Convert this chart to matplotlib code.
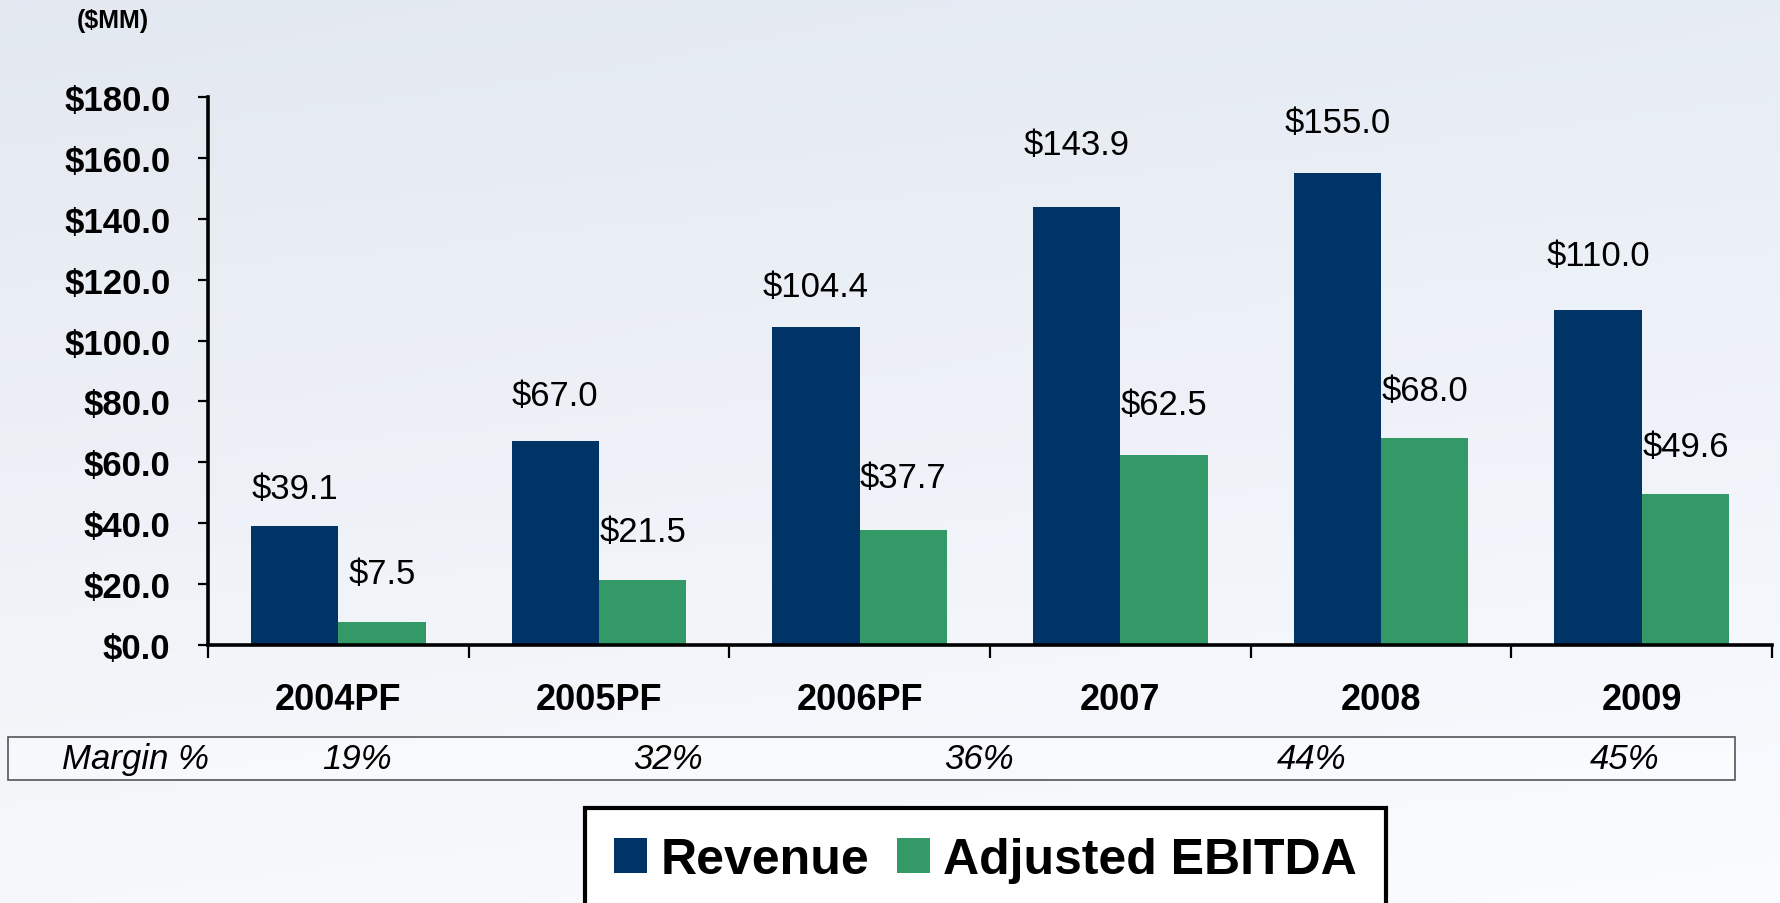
import numpy as np
import matplotlib
matplotlib.use("Agg")
import matplotlib.pyplot as plt
from matplotlib.patches import Rectangle, Patch

# ---- data ----
categories = ["2004PF", "2005PF", "2006PF", "2007", "2008", "2009"]
revenue = [39.1, 67.0, 104.4, 143.9, 155.0, 110.0]
ebitda = [7.5, 21.5, 37.7, 62.5, 68.0, 49.6]
margin_labels = ["19%", "32%", "36%", "44%", "45%"]
y_ticks = [0, 20, 40, 60, 80, 100, 120, 140, 160, 180]
series_names = ["Revenue", "Adjusted EBITDA"]

# ---- style ----
REV_C = "#003366"
EBI_C = "#339966"
FONT = ["Liberation Sans", "DejaVu Sans"]
plt.rcParams["font.family"] = FONT

W, H = 1781, 904
fig = plt.figure(figsize=(W / 100, H / 100), dpi=100)

# background gradient
bg = fig.add_axes([0, 0, 1, 1], zorder=-10)
top = np.array([0.890, 0.912, 0.945])
bot = np.array([0.965, 0.972, 0.984])
t = np.linspace(0, 1, 256)[:, None]
hx = np.linspace(0, 1, 256)[None, :]
grad = top[None, None, :] * (1 - t[..., None]) + bot[None, None, :] * t[..., None]
grad = grad + 0.015 * hx[..., None]
grad = np.clip(grad, 0, 1)
bg.imshow(grad, aspect="auto", extent=[0, 1, 0, 1], origin="upper")
bg.set_xlim(0, 1); bg.set_ylim(0, 1)
bg.axis("off")

# main axes
ax = fig.add_axes([208 / W, 1 - 646 / H, (1772 - 208) / W, (646 - 98) / H])
ax.patch.set_alpha(0)
x = np.arange(len(categories))
bw = 0.335
ax.bar(x - bw / 2, revenue, bw, color=REV_C, zorder=2)
ax.bar(x + bw / 2, ebitda, bw, color=EBI_C, zorder=2)
ax.set_xlim(-0.5, len(categories) - 0.5)
ax.set_ylim(0, 180)

for s in ["top", "right"]:
    ax.spines[s].set_visible(False)
for s in ["left", "bottom"]:
    ax.spines[s].set_linewidth(2.6)
    ax.spines[s].set_color("black")
ax.spines["bottom"].set_zorder(3)

ax.set_yticks(y_ticks)
ax.set_yticklabels([f"${v:.1f}" for v in y_ticks], fontsize=25, fontweight="bold")
ax.tick_params(axis="y", length=7, width=1.6, direction="out", pad=20)

ax.set_xticks(x)
ax.set_xticklabels(categories, fontsize=26, fontweight="bold")
ax.set_xticks(np.arange(-0.5, len(categories), 1.0), minor=True)
ax.tick_params(axis="x", which="major", length=0, pad=27)
ax.tick_params(axis="x", which="minor", length=9, width=1.6, direction="out")

# value labels
rev_gap = [33, 40, 36, 55, 45, 48]
ebi_gap = [43, 42, 46, 44, 42, 42]
for i, v in enumerate(revenue):
    ax.annotate(f"${v:.1f}", (x[i] - bw / 2, v), xytext=(0, rev_gap[i] * 1.1358 * 0.72),
                textcoords="offset points", ha="center", va="center", fontsize=25)
for i, v in enumerate(ebitda):
    ax.annotate(f"${v:.1f}", (x[i] + bw / 2, v), xytext=(0, ebi_gap[i] * 1.1358 * 0.72),
                textcoords="offset points", ha="center", va="center", fontsize=25)

# ($MM)
fig.text(113 / W, 1 - 21 / H, "($MM)", ha="center", va="center", fontsize=18, fontweight="bold")

# margin row
fig.patches.append(Rectangle((8 / W, 1 - 781 / H), (1735 - 8) / W, 43 / H,
                             transform=fig.transFigure, facecolor=(1, 1, 1, 0.35),
                             edgecolor="#555555", linewidth=1.2))
fig.text(136 / W, 1 - 760 / H, "Margin %", ha="center", va="center", fontsize=25, style="italic")
margin_x = [357, 668, 979, 1312, 1625]
for mx, lab in zip(margin_x, margin_labels):
    fig.text(mx / W, 1 - 760 / H, lab, ha="center", va="center", fontsize=25, style="italic")

# legend
handles = [Patch(facecolor=REV_C, edgecolor="none"), Patch(facecolor=EBI_C, edgecolor="none")]
leg = fig.legend(handles, series_names, loc="upper center", bbox_to_anchor=(985.5 / W, 1 - 809 / H),
                 ncol=2, frameon=True, fancybox=False, borderpad=0.58, borderaxespad=0,
                 handlelength=0.66, handleheight=0.7, handletextpad=0.26, columnspacing=0.56,
                 prop={"family": FONT, "size": 36, "weight": "bold"})
fr = leg.get_frame()
fr.set_edgecolor("black")
fr.set_linewidth(3)
fr.set_facecolor("white")
fr.set_alpha(1)

fig.savefig("out.png", dpi=100)
